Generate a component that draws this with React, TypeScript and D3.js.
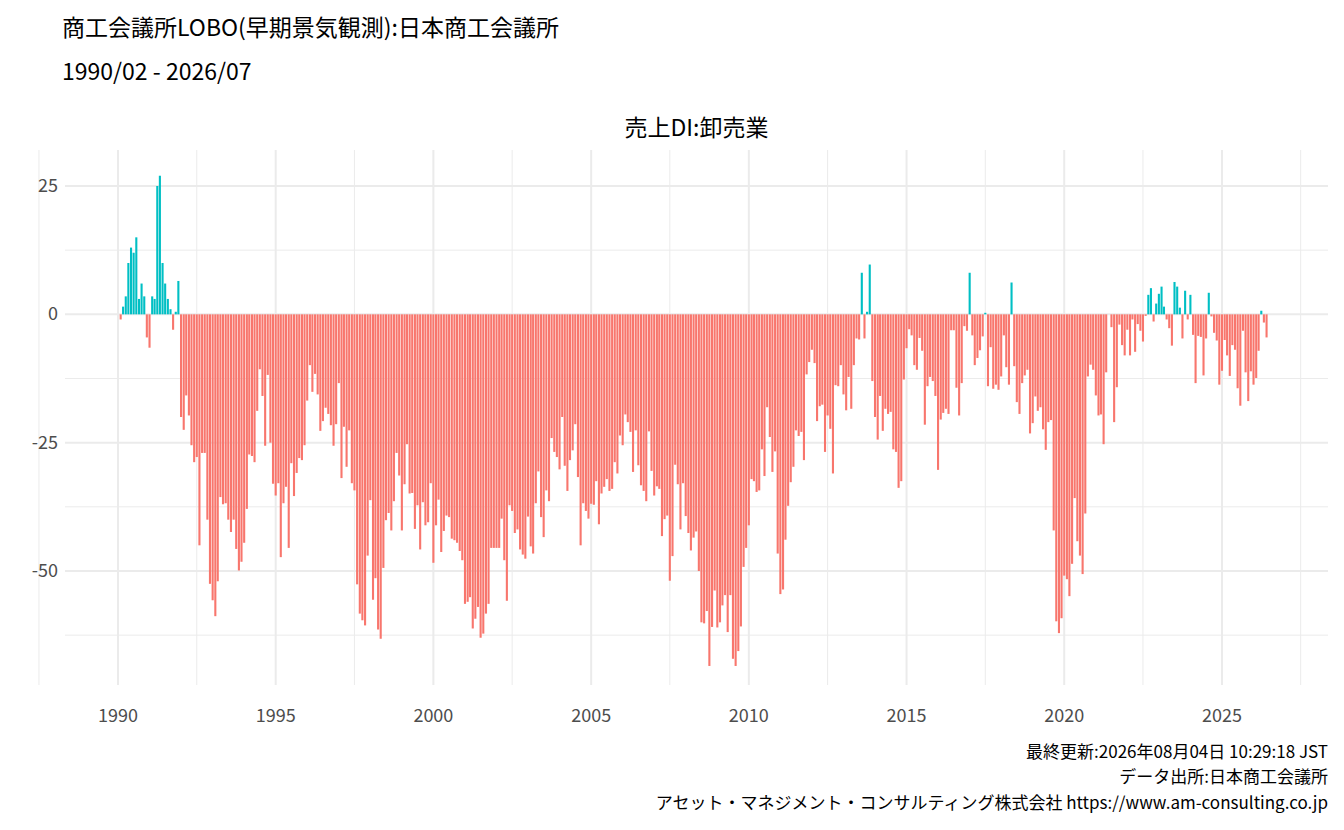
import * as d3 from 'd3';

// 売上DI:卸売業 (1990/02 - 2026/07), monthly
const values1990_1991 = [-1, 1.5, 3.5, 10, 13, 12, 15, 3, 6, 3.5, -4.5,
  -6.5, 3.5, 3, 25, 27, 10, 6, 3, 1, -3, 0.5, 6.5];
const values1992_1995 = [-20, -22.5, -15.8, -19.7, -25.5, -28.8, -27.8, -45, -27, -27, -40, -52.5,
  -55.7, -58.8, -52, -35.6, -37, -36.8, -40, -42.4, -40, -45.7, -49.9, -48.2,
  -44.5, -37.9, -27.3, -27.6, -28.8, -18.8, -10.7, -15.9, -25.6, -11.8, -25, -33,
  -35.3, -32.9, -47.3, -36.8, -33.6, -45.5, -29, -35.4, -30.9, -28, -28.4];
const values1996_2001 = [-25.5, -16.8, -9.9, -15.1, -11.6, -15.6, -22.7, -20.8, -18.2, -19.4, -21.6, -25.6,
  -21.4, -13.4, -31.9, -21.9, -29.7, -22.6, -32.9, -34.3, -52.6, -58.3, -59.6, -60.6,
  -47, -36.2, -55.6, -51.4, -61.4, -63.2, -49.4, -40.1, -38.7, -42.1, -36.4, -27,
  -31.4, -42.1, -33.1, -25.3, -34.9, -34.8, -41.8, -37.2, -45.8, -36.6, -41.1, -40.5,
  -32.9, -48.4, -41.1, -36.1, -46.3, -42.2, -39.2, -39.5, -43.7, -44, -44.5, -46.1,
  -47.9, -56.4, -56, -55.1, -61.2, -59.3, -57, -63, -62.2];
const values2002_2007 = [-58.3, -56.4, -45.5, -45.5, -45.5, -45.5, -39.8, -47.9, -55.8, -37.2, -38.3, -42.6,
  -41.9, -45.8, -46.8, -47.6, -39.4, -45.2, -46.6, -36.8, -30.6, -39.5, -43.4, -34.3,
  -36.4, -24.1, -26.8, -27.8, -30.2, -20, -29.5, -34.4, -28.4, -26.5, -21.4, -31.7,
  -45, -36.8, -38.3, -39.8, -36.9, -37.1, -32.5, -40.9, -34.9, -33.6, -32.1, -34.4,
  -34, -28.8, -31, -23.6, -25.5, -19.5, -21, -22.9, -30.7, -22.6, -29.4, -33.3,
  -34.4, -36.4, -22.8, -30.5, -35.3, -33.5, -34, -43.2, -39.9, -39.2, -51.9, -47.1];
const values2008_2013 = [-29.3, -33.1, -41.9, -32.9, -39.3, -42.6, -46, -43.5, -42.3, -50, -60, -60.2,
  -57.8, -68.5, -60.9, -53.8, -61, -60, -56.7, -54.7, -61.9, -54.7, -67.1, -68.5,
  -65.6, -60.8, -49.2, -45.5, -41.1, -32.1, -32.5, -34.6, -34.3, -26.3, -31.5, -18.1,
  -23.9, -30.7, -26.7, -46.6, -54.5, -53.6, -43.9, -37.3, -32.7, -29.7, -22.6, -23.7,
  -22.9, -28.4, -11.7, -9.3, -6.9, -9.5, -20.8, -17.9, -17.6, -26.8, -19.7, -22.3,
  -31, -13.8, -14, -9.9, -15.6, -18.7, -12.2, -18.4, -9.9, -4.7, -4.9];
const values2014_2019 = [8.1, -4.7, 0.5, 9.7, -13, -20, -24.4, -15.9, -22.7, -18.4, -19.4, -19,
  -26.3, -26.8, -33.8, -32.5, -12.7, -6.6, -2.9, -4.1, -9.9, -10.8, -4.6, -7.1,
  -21.5, -14, -12.2, -13, -15.9, -30.3, -20.5, -19.2, -18.4, -19.4, -3.1, -3.1,
  -14.3, -19.7, -13.4, -2.3, -3.2, 8.1, -4.1, -9.9, -8.5, -7, -4.3, 0.3,
  -14, -6.4, -14.5, -13.7, -14.7, -12.1, -4.1, -10.3, -13.7, 6.2, -10.1, -17.1,
  -19.4, -13.4, -11.9, -10.8, -23.2, -21.2, -16, -18.8, -18.1, -22.4, -26.4, -21, -20.6, -42.1];
const values2020_2026 = [-59.8, -62.1, -59.2, -50.9, -51.6, -54.9, -48.6, -35.8, -44.2, -47, -50.6, -38.8,
  -12.1, -9.8, -10.8, -15.8, -19.7, -19.5, -25.3, -11.3, 0, -2.5, -21, -14.2,
  -2, -6, -8, -3, -8, -1, -7.3, -1.9, -3.2, -5.3, -0.3, 3.8, 5.1, -1.4, 2.1, 4,
  5.4, 1.5, -1, -2.7, -6.1, 6.3, 5.4, 1.3, -4.7, 4.6, -1, 3.8,
  -4, -13.4, -4.2, -4.4, -11.9, -4.7, 4.2, -0.4, -3.6, -5.1, -13.7, -11,
  -5, -8, -12, -6, -6.9, -14.4, -17.8, -3.2, -11.3, -16.9, -11.1, -13.7, -12.4, -7.1, 0.7, -1.6, -4.5];

const values = [
  ...values1990_1991, ...values1992_1995, ...values1996_2001, ...values2002_2007,
  ...values2008_2013, ...values2014_2019, ...values2020_2026,
];
const startMonth = new Date(1990, 1, 1);
const data = values.map((v, i) => ({ date: d3.timeMonth.offset(startMonth, i), value: v }));

const xTickYears = [1990, 1995, 2000, 2005, 2010, 2015, 2020, 2025];
const yTicks = [25, 0, -25, -50];
const yMinor = [12.5, -12.5, -37.5, -62.5];

const W = 1344;
const H = 830;
const left = 65;
const right = 1328;
const top = 150;
const bottom = 685;
const font = "'Noto Sans CJK JP', 'Noto Sans', sans-serif";

export default function App() {
  const yearDate = (y: number) => new Date(y, 0, 1);
  const x = d3.scaleTime()
    .domain([yearDate(1990), yearDate(2025)])
    .range([118, 1222]);
  const y = d3.scaleLinear().domain([25, -50]).range([186, 571]);
  const barW = 2.1;
  const xMinor = xTickYears.map(yr => d3.timeMonth.offset(yearDate(yr), -30)).concat([d3.timeMonth.offset(yearDate(2025), 30)]);

  return (
    <svg width={W} height={H} style={{ position: 'absolute', left: 0, top: 0, background: '#fff' }} fontFamily={font}>
      <text x={62} y={36} fontSize={23} fill="#000">商工会議所LOBO(早期景気観測):日本商工会議所</text>
      <text x={62} y={80} fontSize={23} fill="#000">1990/02 - 2026/07</text>
      <text x={(left + right) / 2} y={136} fontSize={23} textAnchor="middle" fill="#000">売上DI:卸売業</text>

      <g stroke="#ebebeb">
        {yMinor.map(t => <line key={'ym' + t} x1={left} x2={right} y1={y(t)} y2={y(t)} strokeWidth={1} />)}
        {xMinor.map((d, i) => <line key={'xm' + i} x1={x(d)} x2={x(d)} y1={top} y2={bottom} strokeWidth={1} />)}
        {yTicks.map(t => <line key={'y' + t} x1={left} x2={right} y1={y(t)} y2={y(t)} strokeWidth={2} />)}
        {xTickYears.map(yr => <line key={'x' + yr} x1={x(yearDate(yr))} x2={x(yearDate(yr))} y1={top} y2={bottom} strokeWidth={2} />)}
      </g>

      <g>
        {data.map((d, i) => (
          <rect key={i}
            x={x(d.date) - barW / 2}
            y={d.value >= 0 ? y(d.value) : y(0)}
            width={barW}
            height={Math.abs(y(d.value) - y(0))}
            fill={d.value >= 0 ? '#00BFC4' : '#F8766D'} />
        ))}
      </g>

      <g fontSize={18} fill="#4d4d4d">
        {yTicks.map(t => (
          <text key={t} x={58} y={y(t) + 6} textAnchor="end">{t}</text>
        ))}
        {xTickYears.map(yr => (
          <text key={yr} x={x(yearDate(yr))} y={722} textAnchor="middle">{yr}</text>
        ))}
      </g>

      <g fontSize={17} fill="#000" textAnchor="end">
        <text x={right} y={758}>最終更新:2026年08月04日 10:29:18 JST</text>
        <text x={right} y={783}>データ出所:日本商工会議所</text>
        <text x={right} y={809}>アセット・マネジメント・コンサルティング株式会社 https://www.am-consulting.co.jp</text>
      </g>
    </svg>
  );
}
